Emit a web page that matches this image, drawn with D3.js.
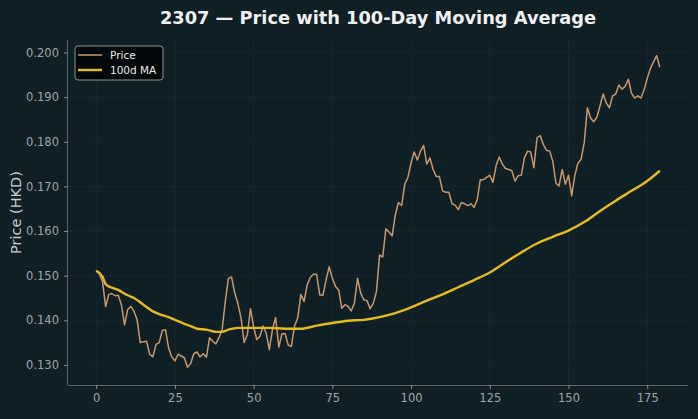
<!DOCTYPE html>
<html>
<head>
<meta charset="utf-8">
<title>2307 price with 100-day MA</title>
<script src="https://d3js.org/d3.v7.min.js"></script>
<style>
  body { margin: 0; background: #0f1f26; }
  svg { display: block; font-family: "DejaVu Sans", sans-serif; }
</style>
</head>
<body>
<svg width="698" height="419"></svg>
<script>
// closing price, one value per trading day
var price = [
  0.1511, 0.1503, 0.1487, 0.1431, 0.1458, 0.1460, 0.1455, 0.1456, 0.1435, 0.1390,
  0.1424, 0.1431, 0.1420, 0.1401, 0.1350, 0.1352, 0.1353, 0.1324, 0.1318, 0.1346,
  0.1350, 0.1377, 0.1379, 0.1338, 0.1318, 0.1309, 0.1324, 0.1320, 0.1316, 0.1295,
  0.1303, 0.1325, 0.1329, 0.1318, 0.1325, 0.1317, 0.1361, 0.1353, 0.1347, 0.1361,
  0.1379, 0.1442, 0.1494, 0.1497, 0.1461, 0.1438, 0.1405, 0.1350, 0.1368, 0.1426,
  0.1385, 0.1357, 0.1364, 0.1387, 0.1371, 0.1334, 0.1381, 0.1406, 0.1340, 0.1370,
  0.1370, 0.1344, 0.1342, 0.1387, 0.1405, 0.1458, 0.1442, 0.1479, 0.1496, 0.1503,
  0.1503, 0.1457, 0.1456, 0.1490, 0.1520, 0.1494, 0.1476, 0.1468, 0.1427, 0.1435,
  0.1431, 0.1421, 0.1438, 0.1494, 0.1461, 0.1446, 0.1444, 0.1426, 0.1438, 0.1464,
  0.1546, 0.1542, 0.1605, 0.1598, 0.1589, 0.1636, 0.1664, 0.1657, 0.1705, 0.1720,
  0.1753, 0.1777, 0.1759, 0.1779, 0.1792, 0.1750, 0.1764, 0.1738, 0.1722, 0.1722,
  0.1690, 0.1687, 0.1687, 0.1661, 0.1658, 0.1648, 0.1664, 0.1661, 0.1657, 0.1661,
  0.1653, 0.1670, 0.1715, 0.1715, 0.1720, 0.1725, 0.1709, 0.1746, 0.1766, 0.1750,
  0.1740, 0.1738, 0.1735, 0.1712, 0.1724, 0.1725, 0.1764, 0.1779, 0.1777, 0.1742,
  0.1809, 0.1814, 0.1794, 0.1781, 0.1779, 0.1757, 0.1707, 0.1701, 0.1738, 0.1705,
  0.1725, 0.1679, 0.1724, 0.1752, 0.1761, 0.1798, 0.1876, 0.1853, 0.1845, 0.1855,
  0.1880, 0.1907, 0.1887, 0.1876, 0.1903, 0.1907, 0.1927, 0.1918, 0.1924, 0.1940,
  0.1909, 0.1898, 0.1903, 0.1898, 0.1916, 0.1942, 0.1964, 0.1979, 0.1993, 0.1967
];

var maDays = [0, 2, 3, 5, 7, 8, 10, 12, 15, 18, 20, 23, 25, 28, 30, 32, 35, 38, 40, 42,
  45, 50, 55, 60, 65, 70, 75, 80, 85, 90, 95, 100, 105, 110, 115, 120, 125, 130, 135,
  140, 145, 150, 155, 160, 165, 170, 175, 179];
var maValues = [0.1511, 0.1498, 0.1481, 0.1473, 0.1468, 0.1464, 0.1456, 0.1450, 0.1435,
  0.1420, 0.1414, 0.1407, 0.1401, 0.1392, 0.1387, 0.1381, 0.1379, 0.1374, 0.1374, 0.1379,
  0.1383, 0.1383, 0.1383, 0.1381, 0.1381, 0.1388, 0.1394, 0.1399, 0.1401, 0.1407, 0.1416,
  0.1429, 0.1444, 0.1458, 0.1474, 0.1490, 0.1507, 0.1530, 0.1552, 0.1572, 0.1587, 0.1601,
  0.1620, 0.1645, 0.1668, 0.1690, 0.1712, 0.1735];

var xTicks = [0, 25, 50, 75, 100, 125, 150, 175];
var yTicks = [0.13, 0.14, 0.15, 0.16, 0.17, 0.18, 0.19, 0.20];

var svg = d3.select("svg");
var margin = {left: 68, right: 10, top: 40, bottom: 34};
var W = 698, H = 419;

var x = d3.scaleLinear().domain([-8.95, 187.95]).range([margin.left, W - margin.right]);
var y = d3.scaleLinear().domain([0.1255, 0.2028]).range([H - margin.bottom, margin.top]);

// grid
var grid = svg.append("g");
grid.selectAll(".gx").data(xTicks).join("line")
  .attr("x1", d => x(d)).attr("x2", d => x(d))
  .attr("y1", margin.top).attr("y2", H - margin.bottom)
  .attr("stroke", "#1a2a31").attr("stroke-width", 0.8);
grid.selectAll(".gy").data(yTicks).join("line")
  .attr("y1", d => y(d)).attr("y2", d => y(d))
  .attr("x1", margin.left).attr("x2", W - margin.right)
  .attr("stroke", "#1a2a31").attr("stroke-width", 0.8);

// axes
var xAxis = svg.append("g")
  .attr("transform", "translate(0," + (H - margin.bottom) + ")")
  .call(d3.axisBottom(x).tickValues(xTicks).tickSize(4).tickPadding(5));
var yAxis = svg.append("g")
  .attr("transform", "translate(" + margin.left + ",0)")
  .call(d3.axisLeft(y).tickValues(yTicks).tickFormat(d3.format(".3f")).tickSize(4).tickPadding(5));
[xAxis, yAxis].forEach(function(a) {
  a.select(".domain").attr("stroke", "#5a6468");
  a.selectAll(".tick line").attr("stroke", "#8a9296");
  a.selectAll(".tick text").attr("fill", "#9ea6aa").attr("font-size", 11.5)
    .attr("font-family", "DejaVu Sans");
});
xAxis.select(".domain").attr("d", "M" + margin.left + ",0.5H" + (W - margin.right));
yAxis.select(".domain").attr("d", "M-0.5," + margin.top + "V" + (H - margin.bottom));

// lines
var priceLine = d3.line().x((d, i) => x(i)).y(d => y(d));
svg.append("path").datum(price)
  .attr("d", priceLine)
  .attr("fill", "none").attr("stroke", "#c9976a").attr("stroke-width", 1.5)
  .attr("stroke-linejoin", "round");

var maLine = d3.line().curve(d3.curveMonotoneX)
  .x((d, i) => x(maDays[i])).y(d => y(d));
svg.append("path").datum(maValues)
  .attr("d", maLine)
  .attr("fill", "none").attr("stroke", "#e8bb1c").attr("stroke-width", 2.4)
  .attr("stroke-linejoin", "round");

// title and label
svg.append("text")
  .attr("x", (margin.left + W - margin.right) / 2).attr("y", 24)
  .attr("text-anchor", "middle").attr("fill", "#f0f0f0")
  .attr("font-size", 17.8).attr("font-weight", "bold")
  .text("2307 \u2014 Price with 100-Day Moving Average");

svg.append("text")
  .attr("transform", "translate(21," + ((margin.top + H - margin.bottom) / 2) + ") rotate(-90)")
  .attr("text-anchor", "middle").attr("fill", "#c8cccf")
  .attr("font-size", 14.5)
  .text("Price (HKD)");

// legend
var lg = svg.append("g").attr("transform", "translate(75,46)");
lg.append("rect").attr("width", 88).attr("height", 34).attr("rx", 3)
  .attr("fill", "#05080a").attr("stroke", "#9aa0a4").attr("stroke-width", 0.9);
var items = [{name: "Price", color: "#c9976a", w: 1.5}, {name: "100d MA", color: "#e8bb1c", w: 2.4}];
items.forEach(function(it, i) {
  var yy = 9 + i * 15;
  lg.append("line").attr("x1", 3).attr("x2", 27).attr("y1", yy).attr("y2", yy)
    .attr("stroke", it.color).attr("stroke-width", it.w);
  lg.append("text").attr("x", 35).attr("y", yy + 4)
    .attr("fill", "#e8e8e8").attr("font-size", 10.5).text(it.name);
});
</script>
</body>
</html>
